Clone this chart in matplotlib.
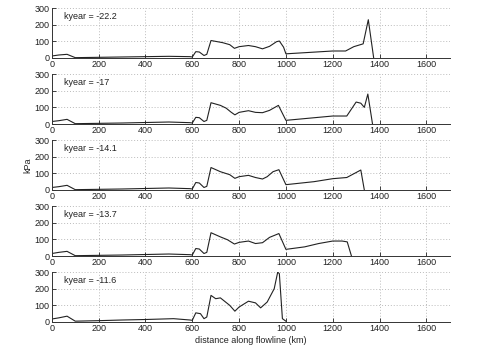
import numpy as np
import matplotlib
matplotlib.use('Agg')
import matplotlib.pyplot as plt

plt.rcParams['font.family'] = ['Liberation Sans', 'DejaVu Sans']

# Basal shear stress (kPa) along the flowline, one profile per time slice
kyears = [-22.2, -17, -14.1, -13.7, -11.6]

x_222 = [0, 30, 65, 100, 200, 300, 400, 500, 590, 600, 615, 630, 650, 662, 680, 730,
         760, 780, 800, 840, 870, 900, 930, 960, 972, 990, 1000, 1200, 1255, 1290,
         1330, 1352, 1375]
tau_222 = [12, 18, 22, 2, 4, 6, 8, 10, 8, 6, 38, 36, 15, 22, 105, 92, 80, 58, 68, 75,
           68, 55, 70, 98, 102, 65, 25, 42, 42, 68, 85, 230, 0]

x_170 = [0, 30, 65, 100, 200, 300, 400, 500, 590, 600, 615, 630, 650, 662, 680, 720,
         745, 765, 782, 800, 840, 870, 900, 930, 968, 1000, 1200, 1260, 1300, 1320,
         1335, 1350, 1370]
tau_170 = [15, 20, 28, 2, 4, 6, 9, 12, 8, 6, 40, 38, 15, 22, 128, 112, 95, 72, 55, 70,
           80, 70, 68, 82, 112, 22, 48, 48, 132, 125, 100, 180, 0]

x_141 = [0, 30, 65, 100, 200, 300, 400, 500, 590, 600, 615, 630, 650, 662, 680, 720,
         760, 782, 800, 840, 870, 900, 920, 945, 970, 1000, 1120, 1200, 1260, 1320,
         1335]
tau_141 = [15, 20, 28, 2, 4, 6, 9, 12, 8, 6, 45, 42, 15, 22, 135, 110, 92, 70, 80, 88,
           75, 66, 80, 110, 122, 32, 50, 68, 75, 120, 0]

x_137 = [0, 30, 65, 100, 200, 300, 400, 500, 590, 600, 615, 630, 650, 662, 680, 720,
         750, 780, 800, 840, 870, 900, 930, 970, 1000, 1080, 1140, 1200, 1240, 1262,
         1280]
tau_137 = [15, 22, 28, 2, 4, 6, 9, 12, 8, 6, 45, 42, 15, 22, 140, 115, 98, 72, 82, 90,
           75, 80, 112, 135, 40, 55, 75, 90, 90, 85, 0]

x_116 = [0, 30, 65, 100, 200, 300, 400, 520, 590, 600, 615, 635, 650, 662, 680, 700,
         720, 760, 782, 800, 840, 870, 892, 920, 950, 965, 972, 985, 1000]
tau_116 = [18, 25, 35, 5, 8, 12, 15, 20, 12, 10, 55, 50, 20, 30, 160, 140, 145, 100,
           65, 90, 125, 115, 85, 120, 200, 300, 290, 20, 5]

profiles = [(x_222, tau_222), (x_170, tau_170), (x_141, tau_141),
            (x_137, tau_137), (x_116, tau_116)]

fig = plt.figure(figsize=(4.8, 3.54), dpi=100)
bottoms = [0.8362, 0.6497, 0.4633, 0.2768, 0.0904]

for i, (xs, ys) in enumerate(profiles):
    ax = fig.add_axes([0.108, bottoms[i], 0.829, 0.141])
    ax.plot(xs, ys, color='#222222', lw=0.8)
    ax.set_xlim(0, 1700)
    ax.set_ylim(0, 300)
    ax.set_xticks(np.arange(0, 1700, 200))
    ax.set_yticks([0, 100, 200, 300])
    ax.grid(True, linestyle=(0, (1, 2)), color='#bbbbbb', lw=0.7)
    for s in ['top', 'right']:
        ax.spines[s].set_visible(False)
    for s in ['left', 'bottom']:
        ax.spines[s].set_linewidth(0.7)
        ax.spines[s].set_color('#333333')
    ax.tick_params(direction='in', length=3, width=0.6, labelsize=6.5, pad=1.5,
                   colors='#222222')
    ax.text(50, 250, 'kyear = %g' % kyears[i], fontsize=6.5, va='center',
            color='#222222')
    if i == 2:
        ax.set_ylabel('kPa', fontsize=6.5, labelpad=2, color='#222222')
    if i == 4:
        ax.set_xlabel('distance along flowline (km)', fontsize=6.5, labelpad=2,
                      color='#222222')

fig.savefig('out.png', dpi=100)
